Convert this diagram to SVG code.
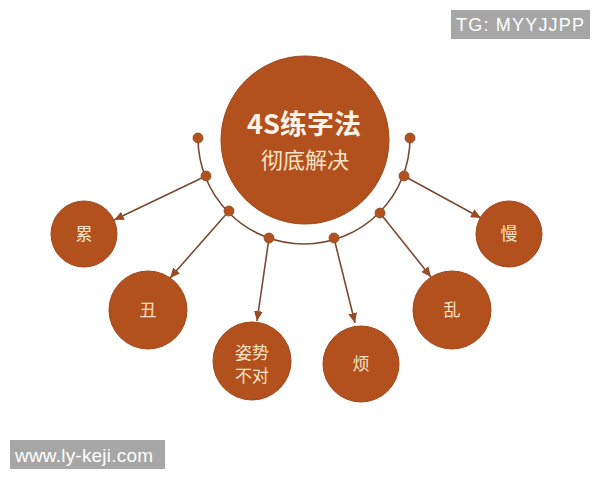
<svg xmlns="http://www.w3.org/2000/svg" width="600" height="480" viewBox="0 0 600 480">
<defs>
<style>
.node{fill:#b3511e;stroke:#a0461a;stroke-width:1}
.dot{fill:#b3511e;stroke:#8a4a2a;stroke-width:0.8}
.line{stroke:#7a4a30;stroke-width:1.6;fill:none}
.lbl{font-family:"Noto Sans CJK SC","Noto Sans",sans-serif;fill:#f6e3c8;text-anchor:middle}
.wm{font-family:"Liberation Sans",Arial,sans-serif;fill:#ffffff}
</style>
<marker id="ah" viewBox="0 0 10 10" refX="10" refY="5" markerWidth="10" markerHeight="10" markerUnits="userSpaceOnUse" orient="auto">
<path d="M0,0.5 L10,5 L0,9.5 Z" fill="#9a4a22"/>
</marker>
</defs>
<rect width="600" height="480" fill="#ffffff"/>
<g id="connectors">
<path class="line" d="M198,138 A106,106 0 0 0 410,138"/>
<line class="line" x1="206" y1="176" x2="114" y2="220" marker-end="url(#ah)"/>
<line class="line" x1="229" y1="211" x2="170" y2="278" marker-end="url(#ah)"/>
<line class="line" x1="269" y1="238" x2="257" y2="321" marker-end="url(#ah)"/>
<line class="line" x1="334" y1="238" x2="355" y2="323" marker-end="url(#ah)"/>
<line class="line" x1="380" y1="213" x2="431" y2="277" marker-end="url(#ah)"/>
<line class="line" x1="404" y1="176" x2="481" y2="218" marker-end="url(#ah)"/>
<circle class="dot" cx="198" cy="138" r="5"/>
<circle class="dot" cx="206" cy="176" r="5"/>
<circle class="dot" cx="229" cy="211" r="5"/>
<circle class="dot" cx="269" cy="238" r="5"/>
<circle class="dot" cx="334" cy="238" r="5"/>
<circle class="dot" cx="380" cy="213" r="5"/>
<circle class="dot" cx="404" cy="176" r="5"/>
<circle class="dot" cx="410" cy="138" r="5"/>
</g>
<g id="center">
<circle class="node" cx="305" cy="140" r="84"/>
<text class="lbl" x="304" y="134" font-size="27" font-weight="bold" style="fill:#fdf3e6">4S练字法</text>
<text class="lbl" x="305" y="168" font-size="22">彻底解决</text>
</g>
<g id="n-lei">
<circle class="node" cx="84" cy="234" r="33"/>
<text class="lbl" x="84" y="240" font-size="17">累</text>
</g>
<g id="n-chou">
<circle class="node" cx="148" cy="310" r="39"/>
<text class="lbl" x="148" y="316" font-size="17">丑</text>
</g>
<g id="n-zishi">
<circle class="node" cx="252" cy="361" r="39"/>
<text class="lbl" x="252" y="359" font-size="17">姿势</text>
<text class="lbl" x="252" y="382" font-size="17">不对</text>
</g>
<g id="n-fan">
<circle class="node" cx="361" cy="364" r="38"/>
<text class="lbl" x="361" y="370" font-size="17">烦</text>
</g>
<g id="n-luan">
<circle class="node" cx="452" cy="310" r="39"/>
<text class="lbl" x="452" y="316" font-size="17">乱</text>
</g>
<g id="n-man">
<circle class="node" cx="509" cy="234" r="33"/>
<text class="lbl" x="509" y="240" font-size="17">慢</text>
</g>
<g id="wm-tg">
<rect x="451" y="10" width="139" height="29" fill="#a6a6a6"/>
<text class="wm" x="456" y="31" font-size="18" textLength="128" lengthAdjust="spacing">TG: MYYJJPP</text>
</g>
<g id="wm-site">
<rect x="10" y="440" width="155" height="29" fill="#a6a6a6"/>
<text class="wm" x="15" y="462" font-size="19" textLength="138" lengthAdjust="spacing">www.ly-keji.com</text>
</g>
</svg>
